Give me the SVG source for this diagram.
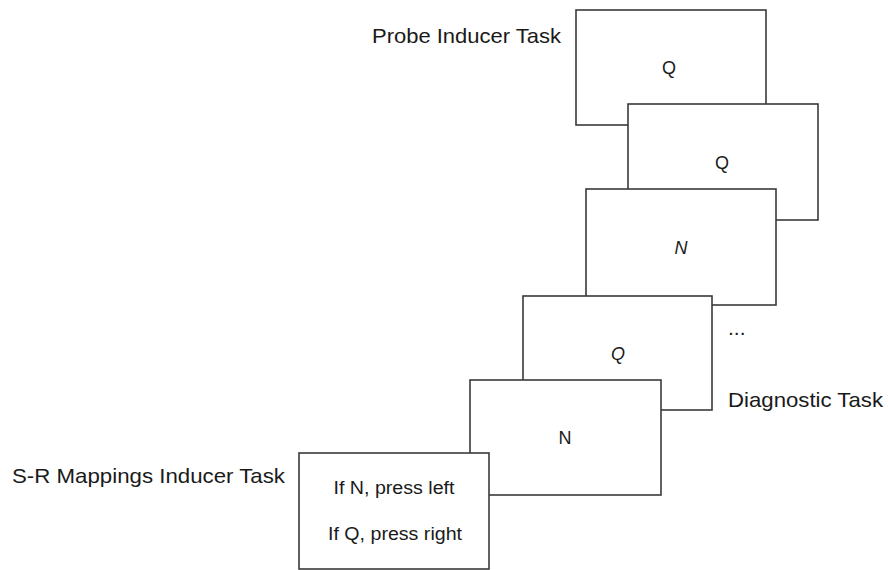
<svg xmlns="http://www.w3.org/2000/svg" width="888" height="570" viewBox="0 0 888 570">
<style>
.box{fill:#fff;stroke:#3a3a3a;stroke-width:1.6}
.t{font-family:"Liberation Sans",Arial,sans-serif;font-size:18px;fill:#1a1a1a;text-anchor:middle}
.lbl{font-family:"Liberation Sans",Arial,sans-serif;font-size:21px;fill:#1a1a1a}
</style>
<rect width="888" height="570" fill="#fff"/>
<g id="connectors"/>
<g id="box1"><rect class="box" x="576" y="10" width="190" height="115"/><text class="t" x="669" y="74">Q</text></g>
<g id="box2"><rect class="box" x="628" y="104" width="190" height="116"/><text class="t" x="722" y="169">Q</text></g>
<g id="box3"><rect class="box" x="586" y="189" width="190" height="116"/><text class="t" x="681" y="254" font-style="italic">N</text></g>
<g id="box4"><rect class="box" x="523" y="296" width="189" height="114"/><text class="t" x="618" y="360" font-style="italic">Q</text></g>
<g id="box5"><rect class="box" x="470" y="380" width="191" height="115"/><text class="t" x="565" y="444">N</text></g>
<g id="box6"><rect class="box" x="299" y="453" width="190" height="116"/><text class="t" x="394" y="494" font-size="19.5" textLength="121" lengthAdjust="spacingAndGlyphs">If N, press left</text><text class="t" x="395" y="540" font-size="19.5" textLength="134" lengthAdjust="spacingAndGlyphs">If Q, press right</text></g>
<g id="labels">
<text class="lbl" x="372" y="43" textLength="189" lengthAdjust="spacingAndGlyphs">Probe Inducer Task</text>
<text class="lbl" x="728" y="335" fill="#444">...</text>
<text class="lbl" x="728" y="407" textLength="155" lengthAdjust="spacingAndGlyphs">Diagnostic Task</text>
<text class="lbl" x="12" y="483" textLength="273" lengthAdjust="spacingAndGlyphs">S-R Mappings Inducer Task</text>
</g>
</svg>
